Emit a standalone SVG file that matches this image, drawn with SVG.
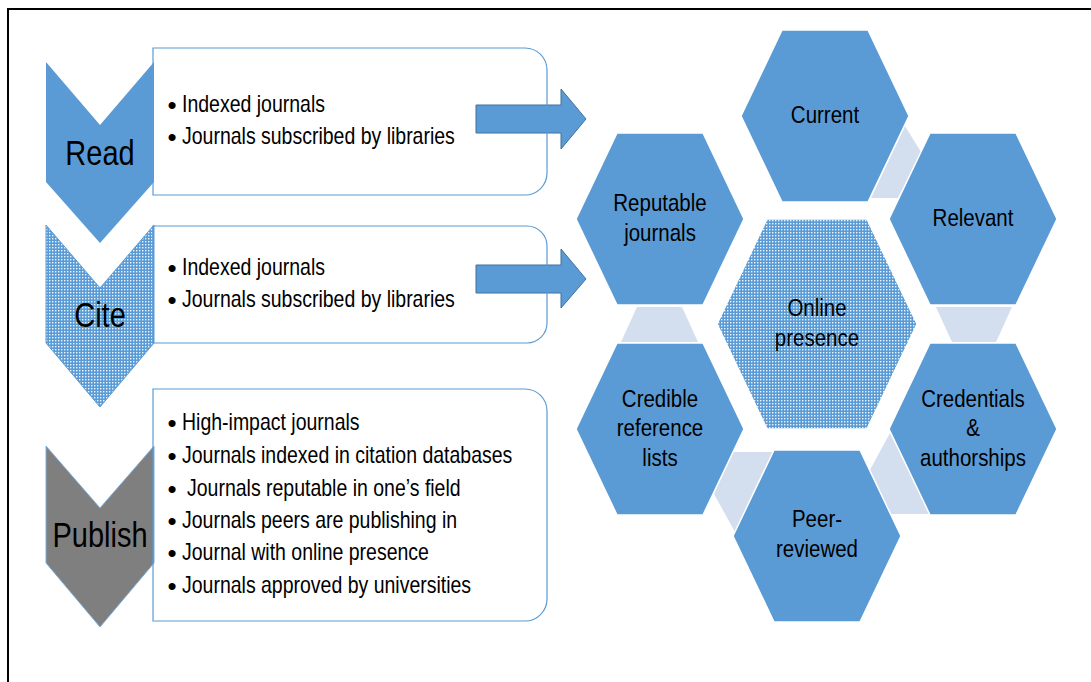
<svg xmlns="http://www.w3.org/2000/svg" width="1091" height="682" viewBox="0 0 1091 682">
<style>
.t{font-family:"Liberation Sans",Arial,sans-serif;font-size:19.5px;fill:#000}
.b{font-family:"Liberation Sans",Arial,sans-serif;font-size:26px;fill:#000;text-anchor:middle}
.h{font-family:"Liberation Sans",Arial,sans-serif;font-size:29px;fill:#000;text-anchor:middle}
.x{font-family:"Liberation Sans",Arial,sans-serif;font-size:20.5px;fill:#000;text-anchor:middle}
.hex{fill:#5b9bd5;stroke:#fff;stroke-width:1.5}
.lt{fill:#d3deef}
.box{fill:none;stroke:#5b9bd5;stroke-width:1.2}
.arr{fill:#5b9bd5;stroke:#41719c;stroke-width:1}
</style>
<defs>
<pattern id="dots" width="3" height="3" patternUnits="userSpaceOnUse">
<rect width="3" height="3" fill="#5b9bd5"/>
<rect x="1" y="1" width="1.4" height="1.4" fill="#ffffff" opacity="0.9"/>
</pattern>
</defs>
<rect x="0" y="0" width="1091" height="682" fill="#fff"/>
<rect x="8" y="9" width="1100" height="700" fill="none" stroke="#000" stroke-width="2"/>

<g id="read">
<path d="M46,62 L100,125 L154,62 L154,182 L100,243 L46,182 Z" fill="#5b9bd5"/>
<text class="h" transform="translate(100,165) scale(1,1.2)">Read</text>
</g>
<g id="cite">
<path d="M46,225 L100,288 L154,225 L154,343 L100,407 L46,343 Z" fill="url(#dots)" stroke="#5b9bd5" stroke-width="1"/>
<text class="h" transform="translate(100,327) scale(1,1.2)">Cite</text>
</g>
<g id="publish">
<path d="M46,446 L100,508 L154,446 L154,563 L100,627 L46,563 Z" fill="#7f7f7f" stroke="#7fb0de" stroke-width="1"/>
<text class="h" transform="translate(100,547) scale(1,1.2)">Publish</text>
</g>

<g id="connectors">
<path class="arr" d="M476,105 H561 V89 L586,119 L561,149 V133 H476 Z"/>
<path class="arr" d="M476,265 H561 V249 L586,279 L561,308 V293 H476 Z"/>
<polygon class="lt" points="905,126 921,152 898,198 871,198"/>
<polygon class="lt" points="936,307 1012,307 996,342 952,342"/>
<polygon class="lt" points="637,307 682,307 698,342 621,342"/>
<polygon class="lt" points="733,452 773,452 735,532 714,494"/>
<polygon class="lt" points="890,433 930,514 890,514 870,470"/>
</g>

<g id="read-box">
<path class="box" d="M153,48 H525 A22,22 0 0 1 547,70 V173 A22,22 0 0 1 525,195 H153 Z"/>
<text class="b" x="172" y="114">•</text>
<text class="t" transform="translate(182,112) scale(1,1.2)">Indexed journals</text>
<text class="b" x="172" y="146">•</text>
<text class="t" transform="translate(182,144) scale(1,1.2)">Journals subscribed by libraries</text>
</g>
<g id="cite-box">
<path class="box" d="M153,226 H527 A20,20 0 0 1 547,246 V323 A20,20 0 0 1 527,343 H153 Z"/>
<text class="b" x="172" y="277">•</text>
<text class="t" transform="translate(182,275) scale(1,1.2)">Indexed journals</text>
<text class="b" x="172" y="309">•</text>
<text class="t" transform="translate(182,307) scale(1,1.2)">Journals subscribed by libraries</text>
</g>
<g id="publish-box">
<path class="box" d="M153,389 H525 A22,22 0 0 1 547,411 V599 A22,22 0 0 1 525,621 H153 Z"/>
<text class="b" x="172" y="432">•</text>
<text class="t" transform="translate(182,430) scale(1,1.2)">High-impact journals</text>
<text class="b" x="172" y="465">•</text>
<text class="t" transform="translate(182,463) scale(1,1.2)">Journals indexed in citation databases</text>
<text class="b" x="172" y="498">•</text>
<text class="t" transform="translate(187,496) scale(1,1.2)">Journals reputable in one’s field</text>
<text class="b" x="172" y="530">•</text>
<text class="t" transform="translate(182,528) scale(1,1.2)">Journals peers are publishing in</text>
<text class="b" x="172" y="562">•</text>
<text class="t" transform="translate(182,560) scale(1,1.2)">Journal with online presence</text>
<text class="b" x="172" y="595">•</text>
<text class="t" transform="translate(182,593) scale(1,1.2)">Journals approved by universities</text>
</g>

<g id="current">
<polygon class="hex" points="741,116 782,30 868,30 909,116 868,202 782,202"/>
<text class="x" transform="translate(825,123) scale(1,1.2)">Current</text>
</g>
<g id="relevant">
<polygon class="hex" points="889,219 930,133 1016,133 1057,219 1016,305 930,305"/>
<text class="x" transform="translate(973,226) scale(1,1.2)">Relevant</text>
</g>
<g id="reputable">
<polygon class="hex" points="576,219 617,133 703,133 744,219 703,305 617,305"/>
<text class="x" transform="translate(660,211) scale(1,1.2)">Reputable</text>
<text class="x" transform="translate(660,241) scale(1,1.2)">journals</text>
</g>
<g id="online">
<polygon class="hex" style="fill:url(#dots)" points="717,324 767,219 867,219 917,324 867,429 767,429"/>
<text class="x" transform="translate(817,316) scale(1,1.2)">Online</text>
<text class="x" transform="translate(817,346) scale(1,1.2)">presence</text>
</g>
<g id="credible">
<polygon class="hex" points="576,429 617,343 703,343 744,429 703,515 617,515"/>
<text class="x" transform="translate(660,407) scale(1,1.2)">Credible</text>
<text class="x" transform="translate(660,436) scale(1,1.2)">reference</text>
<text class="x" transform="translate(660,466) scale(1,1.2)">lists</text>
</g>
<g id="credentials">
<polygon class="hex" points="889,429 930,343 1016,343 1057,429 1016,515 930,515"/>
<text class="x" transform="translate(973,407) scale(1,1.2)">Credentials</text>
<text class="x" transform="translate(973,436) scale(1,1.2)">&amp;</text>
<text class="x" transform="translate(973,466) scale(1,1.2)">authorships</text>
</g>
<g id="peer-reviewed">
<polygon class="hex" points="733,536 774,450 860,450 901,536 860,622 774,622"/>
<text class="x" transform="translate(817,527) scale(1,1.2)">Peer-</text>
<text class="x" transform="translate(817,557) scale(1,1.2)">reviewed</text>
</g>
</svg>
